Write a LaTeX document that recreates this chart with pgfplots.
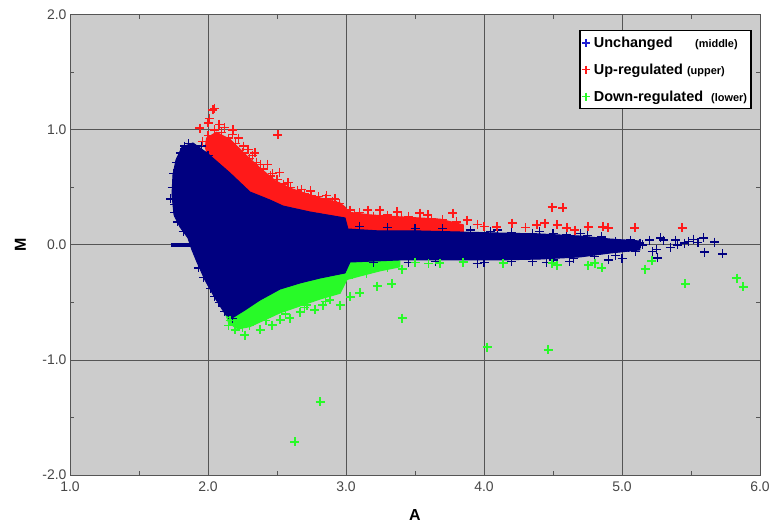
\documentclass[border=0pt]{standalone}
\usepackage{fontspec}
\setmainfont{Liberation Sans}
\usepackage{pgfplots}
\pgfplotsset{compat=1.18}

\definecolor{navyb}{RGB}{0,0,128}
\definecolor{legblue}{RGB}{30,30,210}
\definecolor{redp}{RGB}{255,25,25}
\definecolor{greenp}{RGB}{40,250,40}
\definecolor{panelgray}{RGB}{204,204,204}
\definecolor{gridgray}{RGB}{85,85,85}
\definecolor{ticktext}{RGB}{70,70,70}

\pgfplotsset{
  maplot/.style={
    scale only axis,
    axis background/.style={fill=panelgray},
    axis line style={gridgray, line width=1pt},
    major grid style={gridgray, line width=1pt},
    grid=major,
    major tick length=0pt,
    minor tick length=4bp,
    minor tick style={gridgray, line width=0.8pt},
    tick align=inside,
    tick label style={font=\fontsize{14}{14}\selectfont, text=ticktext},
  },
  pts/.style={only marks, mark=+, mark size=4.5bp, line width=1.2pt},
  legpts/.style={only marks, mark=+, mark size=4bp, line width=1.5pt,
    color=#1, mark options={color=#1, draw=#1}},
}

\begin{document}
\begin{tikzpicture}
\useasboundingbox (-70bp,-54bp) rectangle (702bp,475bp);
\begin{axis}[
  maplot,
  width=690bp, height=460bp,
  xmin=1, xmax=6, ymin=-2, ymax=2,
  xtick={1,2,3,4,5,6},
  xticklabels={1.0,2.0,3.0,4.0,5.0,6.0},
  xticklabel style={yshift=-3bp},
  ytick={-2,-1,0,1,2},
  yticklabels={-2.0,-1.0,0.0,1.0,2.0},
  minor tick num=1,
  xlabel={A}, ylabel={M},
  every axis x label/.style={at={(axis description cs:0.5,-0.087)}, anchor=center,
    font=\fontsize{16}{16}\selectfont\bfseries},
  every axis y label/.style={at={(axis description cs:-0.072,0.5)}, anchor=center, rotate=90,
    font=\fontsize{16}{16}\selectfont\bfseries},
  legend style={
    at={(rel axis cs:0.988,0.967)}, anchor=north east,
    draw=black, line width=1.3pt, fill=white,
    font=\fontsize{14.5}{14.5}\selectfont\bfseries,
    row sep=11bp, inner xsep=2bp, inner ysep=4bp,
    cells={anchor=west},
  },
  legend cell align=left,
]
\addlegendimage{legpts=legblue}
\addlegendentry{\hspace{2bp}Unchanged\quad\ \ {\fontsize{11}{11}\selectfont(middle)}}
\addlegendimage{legpts=redp}
\addlegendentry{\hspace{2bp}Up-regulated {\fontsize{11}{11}\selectfont(upper)}}
\addlegendimage{legpts=greenp}
\addlegendentry{\hspace{2bp}Down-regulated\ \ {\fontsize{11}{11}\selectfont(lower)}}

% dense red band above the cloud
\addplot[forget plot, fill=redp, draw=redp, line width=1pt] coordinates {
 (1.990,0.930) (2.060,0.980) (2.159,0.920) (2.268,0.790) (2.377,0.670)
 (2.486,0.560) (2.594,0.495) (2.703,0.450) (2.812,0.410) (2.957,0.365)
 (2.993,0.330) (3.022,0.285) (3.174,0.262) (3.391,0.245) (3.681,0.225)
 (3.850,0.175) (3.850,0.113) (3.536,0.122) (3.246,0.122) (3.014,0.139)
 (2.993,0.235) (2.739,0.287) (2.543,0.339) (2.449,0.391) (2.304,0.461)
 (2.159,0.626) (1.993,0.800) (1.980,0.850)} -- cycle;

% dense green band below the cloud
\addplot[forget plot, fill=greenp, draw=greenp, line width=1pt] coordinates {
 (2.130,-0.609) (2.150,-0.680) (2.217,-0.730) (2.304,-0.710) (2.413,-0.650)
 (2.522,-0.590) (2.667,-0.530) (2.812,-0.470) (2.957,-0.420) (3.007,-0.300)
 (3.101,-0.270) (3.246,-0.225) (3.391,-0.190) (3.391,-0.130) (3.029,-0.148)
 (2.993,-0.243) (2.812,-0.287) (2.667,-0.330) (2.522,-0.383) (2.377,-0.478)
 (2.268,-0.565) (2.174,-0.635)} -- cycle;

% dense unchanged cloud
\addplot[forget plot, fill=navyb, draw=navyb, line width=1pt] coordinates {
 (1.812,0.852) (1.891,0.887) (1.993,0.800) (2.159,0.626) (2.304,0.461)
 (2.449,0.391) (2.543,0.339) (2.739,0.287) (2.993,0.235) (3.014,0.139)
 (3.246,0.122) (3.536,0.122) (3.826,0.113) (4.116,0.104) (4.406,0.096)
 (4.696,0.078) (4.913,0.052) (5.130,0.035) (5.130,-0.043) (4.913,-0.070)
 (4.696,-0.104) (4.406,-0.122) (4.116,-0.130) (3.754,-0.130) (3.391,-0.130)
 (3.029,-0.148) (2.993,-0.243) (2.812,-0.287) (2.667,-0.330) (2.522,-0.383)
 (2.377,-0.478) (2.268,-0.565) (2.174,-0.635) (2.130,-0.609) (2.051,-0.461)
 (1.978,-0.304) (1.920,-0.148) (1.884,-0.043) (1.855,0.061) (1.797,0.157)
 (1.754,0.261) (1.739,0.435) (1.746,0.609) (1.768,0.739)} -- cycle;

% pile of points at M = 0
\addplot[forget plot, navyb, line width=4.5bp] coordinates {(1.73,0) (1.89,0)};

% unchanged points on the edges and in the tail
\addplot[forget plot, pts, navyb] coordinates {
 (1.74,0.50) (1.75,0.62) (1.77,0.72) (1.80,0.80) (1.83,0.86) (1.86,0.88)
 (1.90,0.84) (1.76,0.35) (1.78,0.20) (1.82,0.12) (1.93,-0.20) (1.97,-0.28)
 (2.02,-0.38) (2.08,-0.50) (2.12,-0.58) (2.18,-0.64) (2.00,0.78) (1.77,0.45)
 (1.73,0.40) (1.76,0.28) (1.79,0.66) (1.84,0.83) (1.95,0.86) (2.05,-0.45)
 (3.10,0.16) (3.30,0.15) (3.50,0.14) (3.70,0.14) (3.90,0.13) (4.05,0.12)
 (4.20,0.11) (4.35,0.10) (4.50,0.10) (4.60,0.09) (4.75,0.08) (4.85,0.07)
 (3.20,-0.15) (3.45,-0.15) (3.65,-0.14) (3.85,-0.14) (4.00,-0.15) (4.20,-0.14)
 (4.35,-0.14) (4.50,-0.13) (4.65,-0.12) (4.80,-0.10) (4.95,-0.09) (5.00,-0.12)
 (5.06,0.043) (5.13,0.017) (5.20,0.043) (5.25,-0.04) (5.28,0.061) (5.30,0.043)
 (5.39,0.043) (5.45,0.017) (5.59,0.061) (5.60,-0.061) (5.67,0.026) (5.73,-0.078)
 (5.26,-0.113) (5.15,0.000) (5.35,-0.02) (5.48,0.030) (5.52,0.050) (4.90,-0.13)
 (5.10,-0.06) (5.22,-0.06) (5.40,0.000) (5.55,0.020) (4.95,0.03) (5.05,-0.02)
 (4.40,0.12) (4.70,0.10) (4.10,0.13) (3.95,-0.16) (4.45,-0.15) (4.62,-0.14)
};

% up-regulated points
\addplot[forget plot, pts, redp] coordinates {
 (2.036,1.174) (2.000,1.061) (1.942,1.017) (2.181,1.000) (2.507,0.957)
 (2.050,1.190) (2.010,1.100) (2.120,1.020) (2.220,0.930) (2.290,0.830)
 (2.000,0.950) (2.050,1.000) (2.100,0.980) (2.150,0.930) (2.200,0.880)
 (2.250,0.800) (2.300,0.750) (2.350,0.720) (2.400,0.660) (2.450,0.600)
 (2.500,0.570) (2.550,0.530) (2.600,0.500) (2.650,0.470) (2.700,0.450)
 (2.750,0.430) (2.800,0.420) (2.850,0.400) (2.900,0.380) (2.950,0.360)
 (2.520,0.630) (2.680,0.480) (2.860,0.430) (2.340,0.800) (2.430,0.700)
 (1.960,0.900) (2.080,1.050) (2.180,0.960) (2.260,0.860) (2.320,0.780)
 (2.380,0.700) (2.470,0.620) (2.580,0.540) (2.740,0.470) (2.920,0.400)
 (3.029,0.304) (3.159,0.304) (3.246,0.304) (3.370,0.287) (3.536,0.278)
 (3.594,0.261) (3.775,0.278) (3.877,0.217) (4.094,0.157) (4.203,0.191)
 (4.384,0.174) (4.493,0.330) (4.572,0.322) (4.442,0.191) (4.529,0.174)
 (4.601,0.148) (4.659,0.130) (4.754,0.157) (4.862,0.157) (4.899,0.148)
 (5.094,0.148) (5.435,0.148) (3.950,0.180) (4.000,0.160) (4.300,0.150)
 (3.300,0.260) (3.450,0.250) (3.700,0.220) (3.100,0.280) (3.060,0.260)
 (3.200,0.250) (3.400,0.240) (3.620,0.230) (3.800,0.200)
};

% down-regulated points
\addplot[forget plot, pts, greenp] coordinates {
 (3.406,-0.635) (4.022,-0.887) (4.464,-0.913) (2.812,-1.365) (2.630,-1.713)
 (5.833,-0.287) (5.877,-0.365) (5.457,-0.339) (5.167,-0.209) (5.217,-0.139)
 (4.855,-0.200) (4.804,-0.157) (4.754,-0.174) (4.529,-0.174) (4.493,-0.157)
 (4.138,-0.157) (3.848,-0.148) (3.681,-0.157) (3.406,-0.209) (3.333,-0.339)
 (3.225,-0.357) (3.101,-0.417) (3.029,-0.452) (2.833,-0.522) (2.717,-0.522)
 (2.377,-0.739) (2.268,-0.783) (2.196,-0.739) (2.522,-0.652) (2.594,-0.635)
 (2.464,-0.696) (2.667,-0.583) (2.775,-0.565) (2.884,-0.478) (2.957,-0.522)
 (3.050,-0.260) (3.150,-0.250) (3.300,-0.200) (3.500,-0.150) (3.600,-0.160)
 (2.150,-0.700) (2.250,-0.720) (2.350,-0.650) (2.450,-0.600) (2.160,-0.660)
 (2.300,-0.700) (2.420,-0.660) (2.560,-0.600) (2.700,-0.540) (2.850,-0.490)
};
\end{axis}
\end{tikzpicture}
\end{document}
